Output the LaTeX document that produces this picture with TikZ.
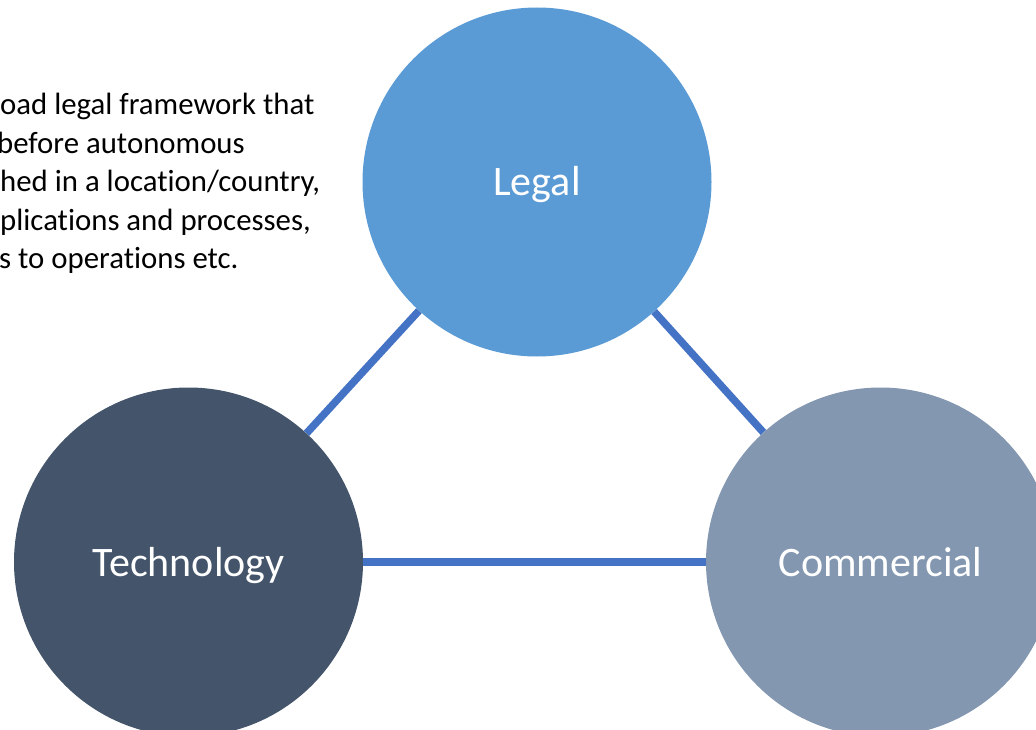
\documentclass[tikz,border=0pt]{standalone}
\usepackage{fontspec}
\setmainfont{Carlito}[Ligatures={NoCommon}]
\definecolor{legalblue}{HTML}{5B9BD5}
\definecolor{techslate}{HTML}{44546A}
\definecolor{commgrey}{HTML}{8497B0}
\definecolor{linkblue}{HTML}{4472C4}
\begin{document}
\begin{tikzpicture}[x=1pt,y=-1pt,
  pillar/.style={circle,inner sep=0pt,minimum size=349pt,text=white,
    text height=28pt,text depth=0pt,
    font=\fontsize{42}{46}\selectfont},
  link/.style={draw=linkblue,line width=7.5pt},
  note/.style={anchor=base west,inner sep=0pt,text=black,
    font=\fontsize{30.8}{38.5}\selectfont}]
  \useasboundingbox (0,0) rectangle (1036,730);
  \clip (0,0) rectangle (1036,730);

  % explanatory text, running in from the left edge
  \node[note] (n1) at (0,115)   {oad legal framework that};
  \node[note] (n2) at (-3,153.5) {before autonomous};
  \node[note] (n3) at (0,192)   {hed in a location/country,};
  \node[note] (n4) at (0,230.5) {plications and processes,};
  \node[note] (n5) at (-1,269)  {s to operations etc.};

  % the three pillars
  \node[pillar,fill=legalblue] (leg) at (537,182) {Legal};
  \node[pillar,fill=techslate] (tech) at (188.5,562) {Technology};
  \node[pillar,fill=commgrey] (comm) at (880.5,562) {Commercial};

  % links between the pillars
  \draw[link] (leg) -- (tech);
  \draw[link] (leg) -- (comm);
  \draw[link] (tech) -- (comm);
\end{tikzpicture}
\end{document}
